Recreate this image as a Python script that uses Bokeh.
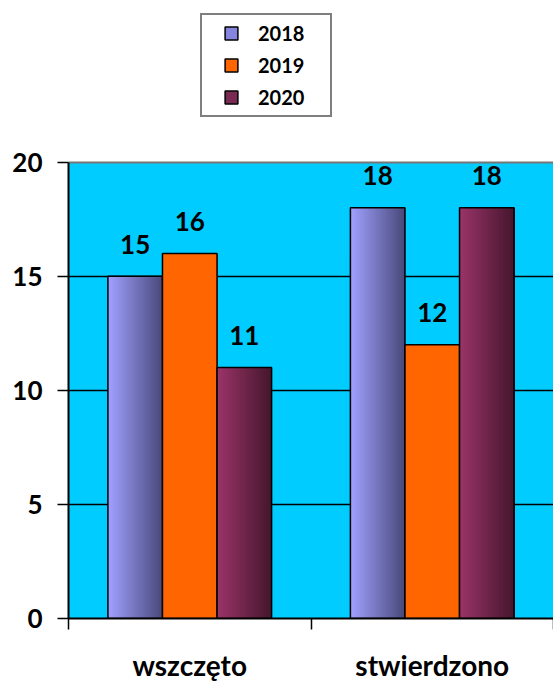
import numpy as np
from bokeh.plotting import figure
from bokeh.models import FixedTicker, Legend, LegendItem, Grid, BoxAnnotation
from bokeh.core.properties import value
from bokeh.embed import file_html
from bokeh.resources import INLINE

# ---- data ----
categories = ["wszczęto", "stwierdzono"]
years = ["2018", "2019", "2020"]
values_2018 = [15, 18]
values_2019 = [16, 12]
values_2020 = [11, 18]
y_ticks = [0, 5, 10, 15, 20]

series = [values_2018, values_2019, values_2020]
gradients = [("#A0A0FF", "#4A4A7C"), ("#FF6600", "#FF6600"), ("#9A3468", "#46172E")]
legend_colors = ["#8585E0", "#FF6600", "#7A2952"]

FONT = "Lato"

# layout (pixels)
W, H = 553, 684
LEFT, BOTTOM = 68, 65
PLOT_TOP = 162            # pixel row of the top of the cyan plot area
FRAME_H = H - BOTTOM      # frame spans from the top of the figure to the x axis
y_top = y_ticks[-1] * FRAME_H / (FRAME_H - PLOT_TOP)


def mix(c1, c2, t):
    a = [int(c1[i:i + 2], 16) for i in (1, 3, 5)]
    b = [int(c2[i:i + 2], 16) for i in (1, 3, 5)]
    return "#%02x%02x%02x" % tuple(round(a[k] + (b[k] - a[k]) * t) for k in range(3))


p = figure(width=W, height=H, x_range=(0, len(categories)), y_range=(y_ticks[0], y_top),
           output_backend="svg", toolbar_location=None,
           min_border_left=LEFT, min_border_right=0, min_border_top=0, min_border_bottom=BOTTOM)
p.background_fill_color = "white"
p.border_fill_color = "white"
p.outline_line_color = None

plot_area = BoxAnnotation(bottom=y_ticks[0], top=y_ticks[-1], fill_color="#00CCFF", fill_alpha=1,
                          line_color=None, level="image")
p.add_layout(plot_area)

cat_x = np.arange(len(categories)) + 0.5
bar_w = 0.225
N = 40

legend_items = []
for k, vals in enumerate(series):
    off = (k - 1) * bar_w
    c1, c2 = gradients[k]
    lefts, rights, tops, cols = [], [], [], []
    for i, v in enumerate(vals):
        left = cat_x[i] + off - bar_w / 2
        for j in range(N):
            lefts.append(left + j * bar_w / N)
            rights.append(left + bar_w)
            tops.append(v)
            cols.append(mix(c1, c2, j / (N - 1)))
    p.quad(left=lefts, right=rights, top=tops, bottom=0, fill_color=cols, line_color=None)
    bx = list(cat_x + off)
    p.vbar(x=bx, top=vals, bottom=0, width=bar_w, fill_color=None,
           line_color="black", line_width=1.5)
    p.text(x=bx, y=vals, text=[str(v) for v in vals], text_align="center",
           text_baseline="alphabetic", y_offset=-32, text_font=value(FONT),
           text_font_style="bold", text_font_size="26px", text_color="black")
    r = p.scatter(x=bx, y=vals, size=0, marker="square", fill_color=legend_colors[k],
                  line_color="black", line_width=1.5)
    legend_items.append(LegendItem(label=years[k], renderers=[r]))

legend = Legend(items=legend_items, location=(132, FRAME_H - 118), orientation="vertical",
                padding=2, spacing=0, margin=0, glyph_height=32, glyph_width=54,
                label_standoff=0, label_width=70, label_height=32,
                border_line_color="black", border_line_width=2,
                background_fill_color="white", background_fill_alpha=1,
                label_text_font=FONT, label_text_font_style="bold",
                label_text_font_size="20px", label_text_color="black")
p.add_layout(legend)

# y axis
p.yaxis.ticker = FixedTicker(ticks=y_ticks)
p.yaxis.bounds = (y_ticks[0], y_ticks[-1])
p.yaxis.major_tick_out = 11
p.yaxis.major_tick_in = 0
p.yaxis.minor_tick_line_color = None
p.yaxis.major_tick_line_color = "black"
p.yaxis.major_tick_line_width = 1.5
p.yaxis.axis_line_color = "black"
p.yaxis.axis_line_width = 2
p.yaxis.major_label_standoff = 15
p.yaxis.major_label_text_font = FONT
p.yaxis.major_label_text_font_style = "bold"
p.yaxis.major_label_text_font_size = "26px"
p.yaxis.major_label_text_color = "black"

# x axis
p.xaxis.ticker = FixedTicker(ticks=list(cat_x), minor_ticks=list(np.arange(len(categories) + 1)))
p.xaxis.major_label_overrides = {float(c): n for c, n in zip(cat_x, categories)}
p.xaxis.major_tick_line_color = None
p.xaxis.major_tick_out = 0
p.xaxis.major_tick_in = 0
p.xaxis.minor_tick_out = 11
p.xaxis.minor_tick_in = 0
p.xaxis.minor_tick_line_color = "black"
p.xaxis.minor_tick_line_width = 1.5
p.xaxis.axis_line_color = "black"
p.xaxis.axis_line_width = 2
p.xaxis.major_label_standoff = 18
p.xaxis.major_label_text_font = FONT
p.xaxis.major_label_text_font_style = "bold"
p.xaxis.major_label_text_font_size = "28px"
p.xaxis.major_label_text_color = "black"

# grid
p.xgrid.visible = False
p.ygrid.ticker = FixedTicker(ticks=y_ticks[1:-1])
p.ygrid.grid_line_color = "black"
p.ygrid.grid_line_width = 1.5
p.add_layout(Grid(dimension=1, ticker=FixedTicker(ticks=[y_ticks[-1]]),
                  grid_line_color="#777777", grid_line_width=2))

open("out.html", "w").write(file_html(p, INLINE))
